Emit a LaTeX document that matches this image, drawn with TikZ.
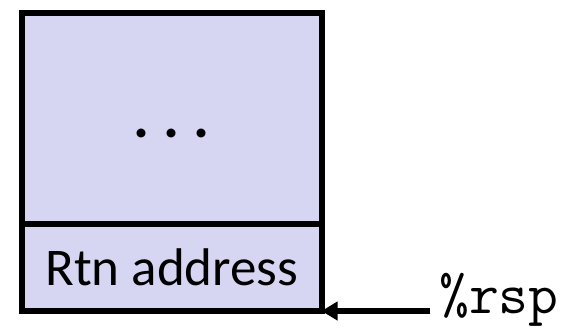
\documentclass[tikz,border=0pt]{standalone}
\usepackage{fontspec}
\setmainfont{Carlito}
\usetikzlibrary{positioning,arrows.meta}
\definecolor{stackfill}{RGB}{214,214,243}

\begin{document}
\begin{tikzpicture}[x=1pt,y=-1pt,
  cell/.style={draw,line width=6pt,fill=stackfill,outer sep=0pt,inner sep=0pt,minimum width=299.2pt},
  ptr/.style={line width=5.5pt,-{Triangle[length=16pt,width=18pt]}}]
\useasboundingbox (0,0) rectangle (569,330);
% stack frame
\node[cell,minimum height=210.7pt] (frame) at (171.9,118.35) {};
\node[cell,minimum height=87.3pt,below=0pt of frame] (ret) {};
\node[font=\fontsize{60}{60}\selectfont\bfseries,anchor=base] (dots) at (171.9,137) {.\hspace{14pt}.\hspace{14pt}.};
\node[font=\fontsize{53}{60}\selectfont,anchor=base] (rtn) at (171.9,285) {Rtn address};
% stack pointer
\coordinate (tail) at (430,311);
\node[font=\ttfamily\fontsize{58}{60}\selectfont,anchor=base west,inner sep=0pt] (rsp) at (439,313) {\%rsp};
\draw[ptr] (tail) -- (tail -| ret.east);
\end{tikzpicture}
\end{document}
